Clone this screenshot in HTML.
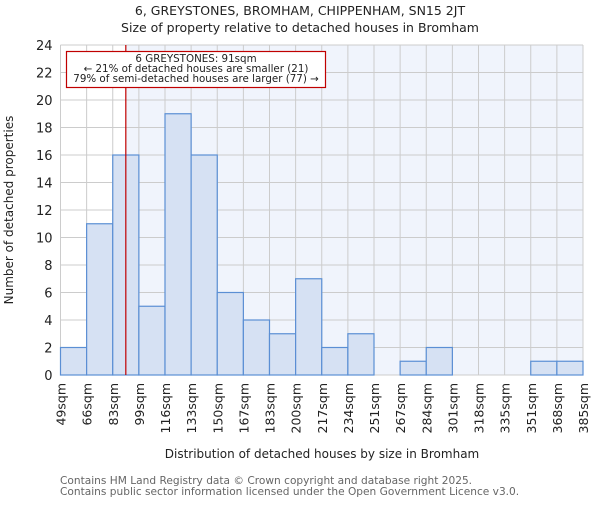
<!DOCTYPE html>
<html><head><meta charset="utf-8"><style>
body{margin:0;background:#fff;width:600px;height:500px;overflow:hidden}
svg text{font-family:"DejaVu Sans","Liberation Sans",sans-serif;fill:#222}
</style></head><body>
<svg id="chart" width="600" height="500" xmlns="http://www.w3.org/2000/svg">
<text x="300" y="15" text-anchor="middle" font-size="12.5">6, GREYSTONES, BROMHAM, CHIPPENHAM, SN15 2JT</text>
<text x="300" y="32" text-anchor="middle" font-size="12.5">Size of property relative to detached houses in Bromham</text>
<g id="plot"></g>
<text x="322" y="458" text-anchor="middle" font-size="12">Distribution of detached houses by size in Bromham</text>
<text transform="translate(13,210) rotate(-90)" text-anchor="middle" font-size="12">Number of detached properties</text>
<text x="60" y="484" font-size="10.6" style="fill:#666">Contains HM Land Registry data © Crown copyright and database right 2025.</text>
<text x="60" y="495" font-size="10.6" style="fill:#666">Contains public sector information licensed under the Open Government Licence v3.0.</text>
</svg>
<script>
const edges=["49sqm","66sqm","83sqm","99sqm","116sqm","133sqm","150sqm","167sqm","183sqm","200sqm","217sqm","234sqm","251sqm","267sqm","284sqm","301sqm","318sqm","335sqm","351sqm","368sqm","385sqm"];
const counts=[2,11,16,5,19,16,6,4,3,7,2,3,0,1,2,0,0,0,1,1];
const yTicks=[0,2,4,6,8,10,12,14,16,18,20,22,24];
const markerIndex=2.5;
const X0=60.5,X1=583,Y0=375,Y1=45,YMAX=24;
const bw=(X1-X0)/counts.length;
const xs=i=>X0+i*bw;
const ys=v=>Y0-(v/YMAX)*(Y0-Y1);
const NS="http://www.w3.org/2000/svg";
const g=document.getElementById('plot');
function mk(t,a){const e=document.createElementNS(NS,t);for(const k in a)e.setAttribute(k,a[k]);g.appendChild(e);return e;}
const mx=xs(markerIndex);
let e=mk('rect',{x:X0,y:Y1,width:mx-X0,height:Y0-Y1,fill:'#ffffff'});

e=mk('rect',{x:mx,y:Y1,width:X1-mx,height:Y0-Y1,fill:'#f0f4fc'});

yTicks.forEach(v=>{
 const l=mk('line',{x1:X0,x2:X1,y1:ys(v),y2:ys(v),stroke:'#cccccc','stroke-width':1});
 
 const t=mk('text',{x:X0-8,y:ys(v)+5,'text-anchor':'end','font-size':13});t.textContent=v;
 
});
edges.forEach((s,i)=>{
 const l=mk('line',{x1:xs(i),x2:xs(i),y1:Y1,y2:Y0,stroke:'#cccccc','stroke-width':1});
 
 const t=mk('text',{transform:`translate(${xs(i)+5},383) rotate(-90)`,'text-anchor':'end','font-size':12.5});t.textContent=s;
 
});
counts.forEach((c,i)=>{
 if(c<=0)return;
 const r=mk('rect',{x:xs(i),y:ys(c),width:bw,height:Y0-ys(c),fill:'#d6e1f3',stroke:'#5b8fd4','stroke-width':1.2});
 
});
e=mk('line',{x1:mx,x2:mx,y1:Y1,y2:Y0,stroke:'#c00000','stroke-width':1.2});

e=mk('rect',{x:66.5,y:51.5,width:259,height:36,fill:'#fff',stroke:'#c00000','stroke-width':1.2});

[["6 GREYSTONES: 91sqm",62],["← 21% of detached houses are smaller (21)",72],["79% of semi-detached houses are larger (77) →",82]].forEach(([s,y])=>{
 const t=mk('text',{x:196,y:y,'text-anchor':'middle','font-size':10.3});t.textContent=s;
 
});
</script>
</body></html>
